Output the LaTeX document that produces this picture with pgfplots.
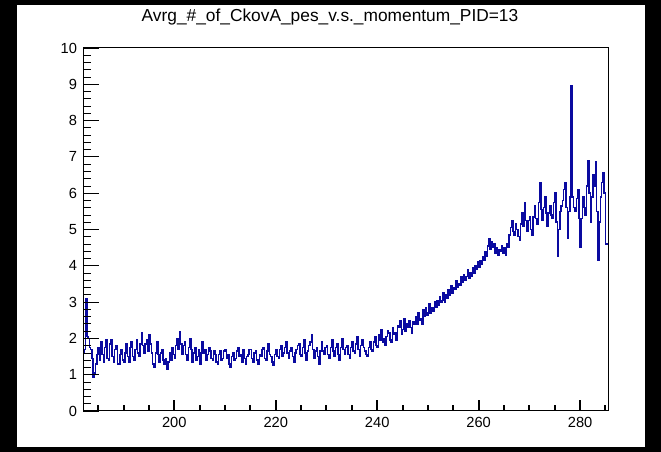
\documentclass[border=0pt]{standalone}
\usepackage{pgfplots}
\pgfplotsset{compat=1.18}
\usepackage{fontspec}
\setmainfont{Liberation Sans}
\definecolor{rootblue}{RGB}{10,10,160}
\pgfplotsset{rootframe/.style={
  at={(62.25pt,30.75pt)}, anchor=south west,
  scale only axis, width=393.75pt, height=272.25pt,
  xmin=182, xmax=285.5, ymin=0, ymax=10,
  tick align=inside,
  axis line style={black, line width=0.75pt},
  ticklabel style={font=\fontsize{11pt}{13pt}\selectfont},
  /pgf/number format/assume math mode=true,
}}
\begin{document}
\begin{tikzpicture}
\fill[black] (0pt,0pt) rectangle (495.75pt,339pt);
\fill[white] (12.75pt,3.75pt) rectangle (483.75pt,335.25pt);
\node[font=\fontsize{13pt}{15pt}\selectfont] at (247.5pt,326.25pt) {Avrg\_\#\_of\_CkovA\_pes\_v.s.\_momentum\_PID=13};
\begin{axis}[rootframe, xtick=\empty, ytick=\empty]
\addplot[const plot mark left, rootblue, line width=1.1pt] coordinates {
(182.00,1.6) (182.25,1.7) (182.50,3.08) (182.75,2.05) (183.00,2.0) (183.25,1.75) (183.50,1.7) (183.75,1.45)
(184.00,0.92) (184.25,1.05) (184.50,1.3) (184.75,1.55)
(185.00,1.75) (185.25,1.4) (185.50,1.9) (185.75,1.55) (186.00,1.35) (186.25,1.75) (186.50,1.95) (186.75,1.45)
(187.00,1.4) (187.25,1.85) (187.50,1.95) (187.75,1.5) (188.00,1.35) (188.25,1.7) (188.50,1.8) (188.75,1.3)
(189.00,1.3) (189.25,1.55) (189.50,1.7) (189.75,1.4) (190.00,1.35) (190.25,1.6) (190.50,1.85) (190.75,1.5)
(191.00,1.35) (191.25,1.75) (191.50,1.9) (191.75,1.5) (192.00,1.4) (192.25,1.7) (192.50,1.95) (192.75,1.6)
(193.00,1.5) (193.25,1.85) (193.50,2.15) (193.75,1.8) (194.00,1.6) (194.25,1.85) (194.50,1.95) (194.75,1.65)
(195.00,2.1) (195.25,1.85) (195.50,1.6) (195.75,1.3) (196.00,1.2) (196.25,1.6) (196.50,1.9) (196.75,1.55)
(197.00,1.35) (197.25,1.6) (197.50,1.7) (197.75,1.4) (198.00,1.3) (198.25,1.45) (198.50,1.15) (198.75,1.35)
(199.00,1.6) (199.25,1.4) (199.50,1.75) (199.75,1.55) (200.00,1.45) (200.25,1.8) (200.50,2.0) (200.75,1.7)
(201.00,2.18) (201.25,1.85) (201.50,1.55) (201.75,1.8) (202.00,1.9) (202.25,1.55) (202.50,1.4) (202.75,1.75)
(203.00,2.0) (203.25,1.7) (203.50,1.35) (203.75,1.6) (204.00,1.75) (204.25,1.4) (204.50,1.5) (204.75,1.7)
(205.00,1.3) (205.25,1.6) (205.50,1.9) (205.75,1.6) (206.00,1.7) (206.25,1.4) (206.50,1.55) (206.75,1.75)
(207.00,1.65) (207.25,1.45) (207.50,1.4) (207.75,1.65) (208.00,1.55) (208.25,1.35) (208.50,1.3) (208.75,1.55)
(209.00,1.65) (209.25,1.4) (209.50,1.45) (209.75,1.65) (210.00,1.7) (210.25,1.45) (210.50,1.55) (210.75,1.3)
(211.00,1.2) (211.25,1.5) (211.50,1.6) (211.75,1.4) (212.00,1.45) (212.25,1.65) (212.50,1.75) (212.75,1.5)
(213.00,1.55) (213.25,1.35) (213.50,1.7) (213.75,1.45) (214.00,1.3) (214.25,1.5) (214.50,1.55) (214.75,1.7)
(215.00,1.7) (215.25,1.45) (215.50,1.35) (215.75,1.6) (216.00,1.65) (216.25,1.4) (216.50,1.3) (216.75,1.55)
(217.00,1.5) (217.25,1.7) (217.50,1.75) (217.75,1.45) (218.00,1.4) (218.25,1.65) (218.50,1.85) (218.75,1.55)
(219.00,1.5) (219.25,1.35) (219.50,1.25) (219.75,1.55) (220.00,1.7) (220.25,1.5) (220.50,1.45) (220.75,1.7)
(221.00,1.8) (221.25,1.5) (221.50,1.6) (221.75,1.75) (222.00,1.9) (222.25,1.6) (222.50,1.45) (222.75,1.65)
(223.00,1.75) (223.25,1.5) (223.50,1.35) (223.75,1.6) (224.00,1.7) (224.25,1.8) (224.50,1.85) (224.75,1.55)
(225.00,1.5) (225.25,1.75) (225.50,1.95) (225.75,1.6) (226.00,1.4) (226.25,1.65) (226.50,1.8) (226.75,1.9)
(227.00,2.1) (227.25,1.7) (227.50,1.45) (227.75,1.65) (228.00,1.75) (228.25,1.5) (228.50,1.3) (228.75,1.65)
(229.00,1.9) (229.25,1.65) (229.50,1.55) (229.75,1.75) (230.00,1.8) (230.25,1.55) (230.50,1.45) (230.75,1.75)
(231.00,1.95) (231.25,1.65) (231.50,1.5) (231.75,1.75) (232.00,1.85) (232.25,1.55) (232.50,1.4) (232.75,1.75)
(233.00,2.0) (233.25,1.7) (233.50,1.55) (233.75,1.75) (234.00,1.8) (234.25,1.55) (234.50,1.45) (234.75,1.75)
(235.00,1.9) (235.25,1.65) (235.50,1.6) (235.75,1.85) (236.00,2.05) (236.25,1.7) (236.50,1.5) (236.75,1.8)
(237.00,1.95) (237.25,1.75) (237.50,1.65) (237.75,1.55) (238.00,1.5) (238.25,1.75) (238.50,1.9) (238.75,1.7)
(239.00,1.65) (239.25,1.9) (239.50,2.05) (239.75,1.8) (240.00,1.75) (240.25,2.1) (240.50,1.95) (240.75,2.25)
(241.00,1.9) (241.25,2.0) (241.50,1.8) (241.75,2.05) (242.00,2.2) (242.25,2.15) (242.50,1.95) (242.75,1.9)
(243.00,2.3) (243.25,2.1) (243.50,2.15) (243.75,1.95) (244.00,2.35) (244.25,2.3) (244.50,2.5) (244.75,2.1)
(245.00,2.25) (245.25,2.55) (245.50,2.2) (245.75,2.4) (246.00,2.3) (246.25,2.5) (246.50,2.3) (246.75,2.15)
(247.00,2.45) (247.25,2.4) (247.50,2.6) (247.75,2.4) (248.00,2.7) (248.25,2.5) (248.50,2.55) (248.75,2.4)
(249.00,2.8) (249.25,2.6) (249.50,2.85) (249.75,2.65) (250.00,2.7) (250.25,2.95) (250.50,2.7) (250.75,2.85)
(251.00,2.75) (251.25,3.0) (251.50,2.85) (251.75,3.05) (252.00,2.9) (252.25,3.15) (252.50,3.0) (252.75,3.05)
(253.00,3.25) (253.25,3.0) (253.50,3.2) (253.75,3.1) (254.00,3.35) (254.25,3.2) (254.50,3.45) (254.75,3.25)
(255.00,3.4) (255.25,3.35) (255.50,3.6) (255.75,3.4) (256.00,3.5) (256.25,3.45) (256.50,3.7) (256.75,3.55)
(257.00,3.75) (257.25,3.6) (257.50,3.7) (257.75,3.9) (258.00,3.65) (258.25,3.8) (258.50,3.7) (258.75,3.95)
(259.00,3.8) (259.25,4.0) (259.50,3.9) (259.75,4.1) (260.00,3.95) (260.25,4.15) (260.50,4.05) (260.75,4.25)
(261.00,4.15) (261.25,4.4) (261.50,4.25) (261.75,4.55) (262.00,4.75) (262.25,4.45) (262.50,4.65) (262.75,4.5)
(263.00,4.6) (263.25,4.35) (263.50,4.5) (263.75,4.3) (264.00,4.45) (264.25,4.4) (264.50,4.55) (264.75,4.35)
(265.00,4.5) (265.25,4.3) (265.50,4.6) (265.75,4.5) (266.00,4.85) (266.25,5.05) (266.50,5.25) (266.75,4.95)
(267.00,4.85) (267.25,5.15) (267.50,5.0) (267.75,4.8) (268.00,4.7) (268.25,5.15) (268.50,5.45) (268.75,5.1)
(269.00,5.75) (269.25,5.25) (269.50,4.95) (269.75,5.25) (270.00,5.35) (270.25,5.0) (270.50,4.85) (270.75,5.35)
(271.00,5.65) (271.25,5.3) (271.50,5.15) (271.75,5.75) (272.00,6.28) (272.25,5.55) (272.50,5.25) (272.75,5.6)
(273.00,5.9) (273.25,5.45) (273.50,5.1) (273.75,5.45) (274.00,5.65) (274.25,5.4) (274.50,5.3) (274.75,5.75)
(275.00,6.0) (275.25,5.2) (275.50,4.25) (275.75,5.0) (276.00,5.5) (276.25,5.65) (276.50,5.8) (276.75,6.1)
(277.00,6.3) (277.25,5.6) (277.50,4.77) (277.75,5.5) (278.00,5.9) (278.25,8.96) (278.50,5.9) (278.75,5.6)
(279.00,5.5) (279.25,5.85) (279.50,6.1) (279.75,5.3) (280.00,4.5) (280.25,5.3) (280.50,5.9) (280.75,5.6)
(281.00,5.4) (281.25,6.2) (281.50,6.9) (281.75,6.0) (282.00,5.2) (282.25,5.9) (282.50,6.5) (282.75,6.2)
(283.00,6.87) (283.25,5.5) (283.50,4.16) (283.75,5.2) (284.00,5.9) (284.25,6.3) (284.50,6.55) (284.75,6.0)
(285.00,4.6) (285.25,4.6) (285.50,4.6)
};
\end{axis}
\begin{axis}[rootframe,
  xtick=\empty,
  ytick={0,1,...,10},
  minor y tick num=4,
  ytick pos=left,
  major tick length=12pt,
  minor tick length=6pt,
  ytick style={black, line width=0.6pt},
  yticklabel style={xshift=-1pt},
]
\end{axis}
\begin{axis}[rootframe,
  ytick=\empty,
  xtick={200,220,240,260,280},
  minor xtick={185,190,195,205,210,215,225,230,235,245,250,255,265,270,275,285},
  xtick pos=left,
  xtick align=inside,
  major tick length=8.25pt,
  minor tick length=4.5pt,
  major x tick style={black, line width=1.5pt},
  minor x tick style={black, line width=1.5pt},
  xticklabel style={yshift=-1pt},
]
\end{axis}
\end{tikzpicture}
\end{document}
